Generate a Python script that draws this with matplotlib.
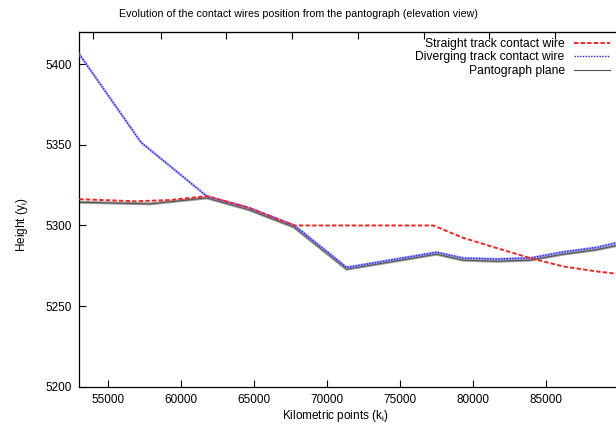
import matplotlib
matplotlib.use("Agg")
import matplotlib.pyplot as plt

plt.rcParams['font.family'] = ['Liberation Sans', 'DejaVu Sans']

# Kilometric points sampled along the line
km_straight = [53055, 56938, 59267, 61781, 64630, 67760, 77301, 79356, 81644, 83925, 86205, 88493, 89815]
h_straight = [5316.3, 5315.0, 5315.8, 5318.2, 5311.1, 5300.0, 5300.0, 5292.3, 5286.0, 5279.8, 5274.6, 5271.5, 5270.1]

km_diverging = [53055, 57281, 61781, 64630, 67760, 71370, 77521, 79356, 81644, 83925, 86205, 88493, 89815]
h_diverging = [5406.2, 5351.5, 5318.2, 5311.1, 5300.2, 5274.0, 5283.4, 5279.8, 5279.2, 5279.8, 5283.6, 5286.4, 5289.2]

km_panto = [53055, 57897, 61781, 64630, 67760, 71370, 77521, 79356, 81644, 83925, 86205, 88493, 89815]
h_panto = [5314.4, 5313.4, 5317.1, 5309.9, 5299.0, 5272.9, 5282.2, 5278.5, 5277.8, 5278.5, 5282.2, 5285.0, 5287.5]

x_ticks = [55000, 60000, 65000, 70000, 75000, 80000, 85000]
y_ticks = [5200, 5250, 5300, 5350, 5400]
top_ticks = [53993, 58630, 63103, 67603, 72164, 76664, 81137, 85637]

fig = plt.figure(figsize=(6.16, 4.28), dpi=100)
ax = fig.add_axes([0.1287, 0.0965, 0.8756, 0.8287])

ax.plot(km_panto, h_panto, color='#888888', lw=2.2, alpha=0.8, solid_capstyle='round', zorder=2)
ax.plot(km_panto, h_panto, color='#555555', lw=0.8, zorder=2, label='Pantograph plane')

ax.plot(km_diverging, h_diverging, color='#9090ff', lw=1.8, alpha=0.7, zorder=3)
ax.plot(km_diverging, h_diverging, color='#2020ff', lw=1.0, ls=(0, (1, 1)), zorder=3,
        label='Diverging track contact wire')

ax.plot(km_straight, h_straight, color='#ff2020', lw=1.4, ls=(0, (2.2, 1.2)), zorder=4,
        label='Straight track contact wire')

ax.set_xlim(53050, 90000)
ax.set_ylim(5200, 5420)
ax.set_xticks(x_ticks)
ax.set_yticks(y_ticks)
ax.tick_params(direction='in', length=4.8, width=0.8, labelsize=8.5, top=False, right=False, pad=5)
for s in ax.spines.values():
    s.set_linewidth(0.9)

sec = ax.secondary_xaxis('top')
sec.set_xticks(top_ticks, labels=[])
sec.tick_params(direction='in', length=4.8, width=0.8)

fig.text(298.5 / 616, 1 - 14 / 428, 'Evolution of the contact wires position from the pantograph (elevation view)',
         ha='center', va='center', fontsize=7.7)
fig.text(335 / 616, 1 - 416 / 428, 'Kilometric points (k$_\\mathregular{i}$)', ha='center', va='center', fontsize=8.5)
fig.text(21.5 / 616, 1 - 225 / 428, 'Height (y$_\\mathregular{i}$)', ha='center', va='center', rotation=90, fontsize=8.5)

handles, labels = ax.get_legend_handles_labels()
order = [2, 1, 0]
ax.legend([handles[i] for i in order], [labels[i] for i in order],
          loc='upper right', bbox_to_anchor=(610 / 616, 1 - 38 / 428), bbox_transform=fig.transFigure,
          frameon=False, markerfirst=False, fontsize=8.7, handlelength=3.0, handletextpad=0.75,
          labelspacing=0.12, borderpad=0, borderaxespad=0)

fig.savefig('out.png', dpi=100)
